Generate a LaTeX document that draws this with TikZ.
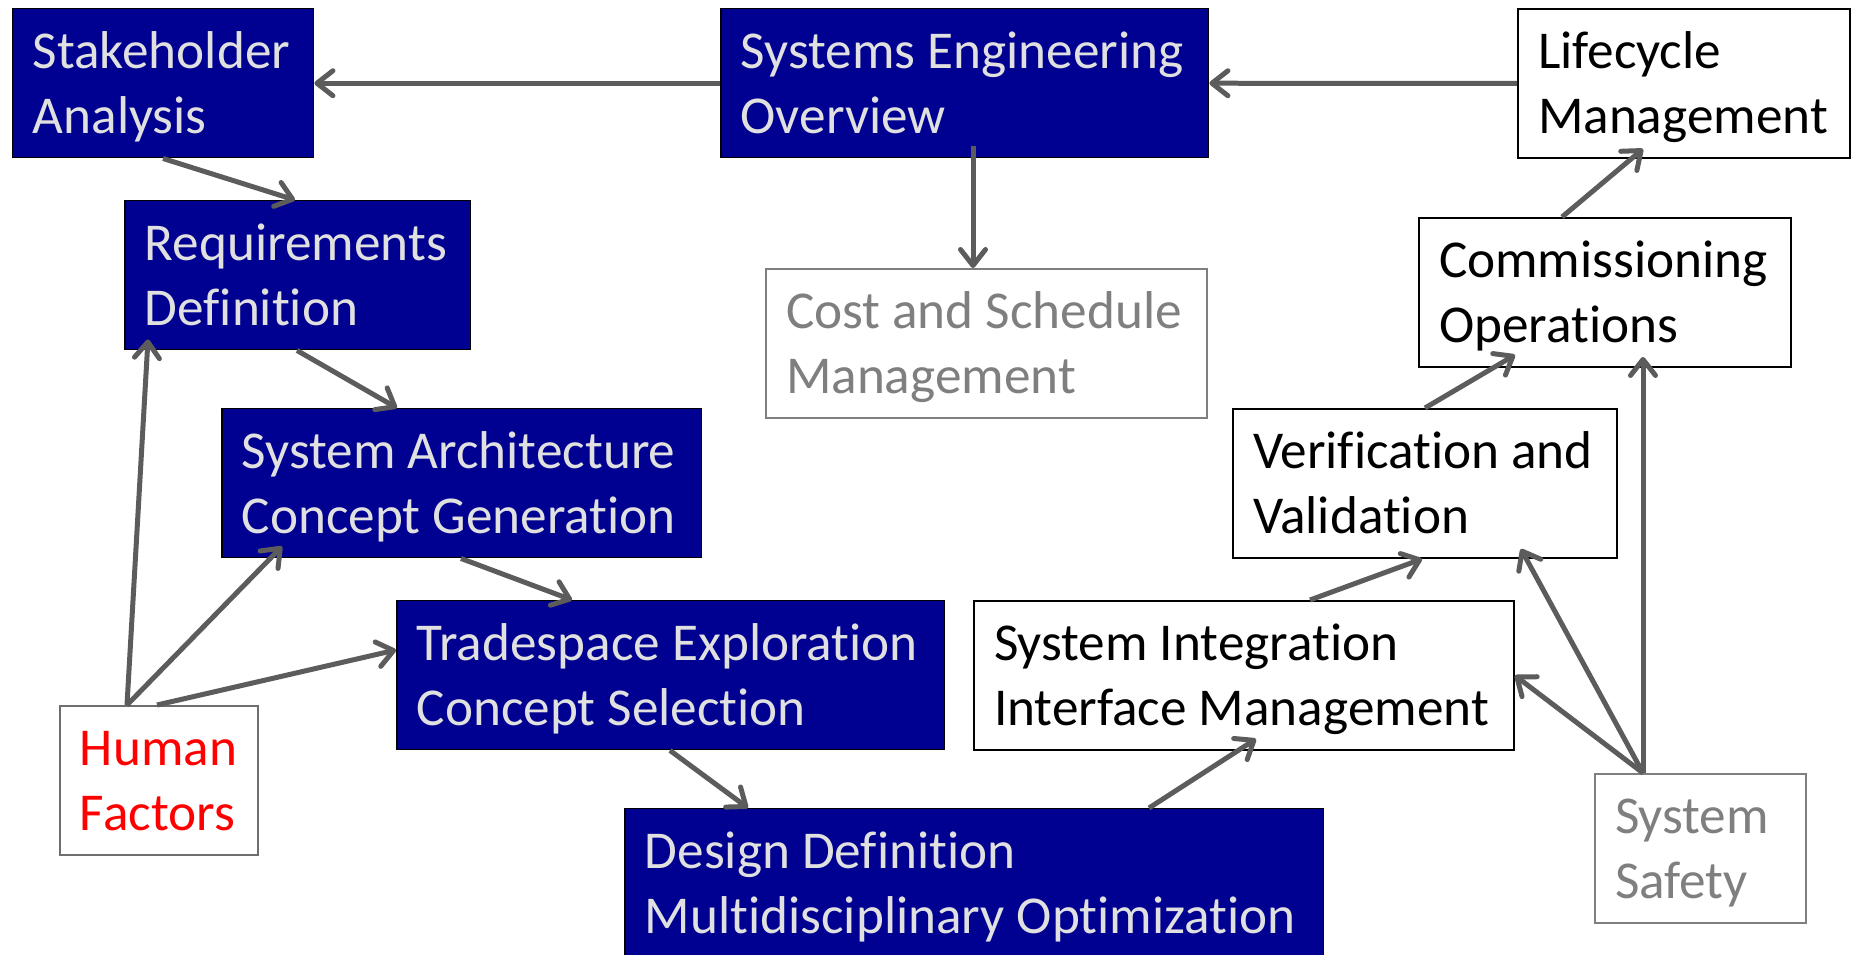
\documentclass[tikz,border=0pt]{standalone}
\usepackage{fontspec}
\setmainfont{Carlito}[Ligatures=NoCommon,Contextuals=NoAlternate]
\usetikzlibrary{arrows.meta,calc}
\definecolor{sedark}{HTML}{000091}
\definecolor{selight}{HTML}{E0E0E0}
\definecolor{segray}{HTML}{7F7F7F}
\definecolor{sehf}{HTML}{6E6E6E}
\definecolor{searrow}{HTML}{5C5C5C}
\tikzset{
  box/.style 2 args={anchor=north west,draw,line width=0.04cm,minimum width=#1,minimum height=2.98cm,
    text width=#2,inner xsep=0.4cm,inner ysep=0pt,align=flush left,text height=0.7cm,text depth=1.28cm,
    font=\fontsize{30.3pt}{36.6pt}\selectfont},
  darkbox/.style={fill=sedark,text=selight,draw=black,line width=0.03cm},
  whitebox/.style={fill=white,text=black,draw=black},
  greybox/.style={fill=white,text=segray,draw=segray},
  hfbox/.style={fill=white,text=red,draw=sehf},
  arr/.style={draw=searrow,line width=0.1cm,-{Straight Barb[length=0.32cm,width=0.5cm,round]}}
}
\begin{document}
\begin{tikzpicture}[x=0.02cm,y=-0.02cm]
\useasboundingbox (0,0) rectangle (1857,955);
%boxes
\node[box={6.02cm}{5.22cm},darkbox] (stake) at (12,8) {Stakeholder\\Analysis};
\node[box={9.76cm}{8.96cm},darkbox] (seo) at (720,8) {Systems~Engineering\\Overview};
\node[box={6.64cm}{5.84cm},whitebox] (life) at (1517,8) {Lifecycle\\Management};
\node[box={6.92cm}{6.12cm},darkbox] (req) at (124,200) {Requirements\\Definition};
\node[box={8.82cm}{8.02cm},greybox] (cost) at (765,268) {Cost~and~Schedule\\Management};
\node[box={7.44cm}{6.64cm},whitebox] (comm) at (1418,217) {Commissioning\\Operations};
\node[box={9.60cm}{8.80cm},darkbox] (arch) at (221,408) {System~Architecture\\Concept~Generation};
\node[box={7.68cm}{6.88cm},whitebox] (vv) at (1232,408) {Verification~and\\Validation};
\node[box={10.96cm}{10.16cm},darkbox] (trade) at (396,600) {Tradespace~Exploration\\Concept~Selection};
\node[box={10.80cm}{10.00cm},whitebox] (integ) at (973,600) {System~Integration\\Interface~Management};
\node[box={3.96cm}{3.16cm},hfbox] (human) at (59,705) {Human\\Factors};
\node[box={13.98cm}{13.18cm},darkbox] (design) at (624,808) {Design~Definition\\Multidisciplinary~Optimization};
\node[box={4.22cm}{3.42cm},greybox] (safety) at (1594,773) {System\\Safety};
%top row
\draw[arr] (seo.west) -- (stake.east);
\draw[arr] (life.west) -- (seo.east);
\draw[arr] ($(seo.south west)+(253,-12)$) coordinate (c1) -- (c1 |- cost.north);
%left chain
\draw[arr] ($(stake.south west)+(151,0)$) -- ($(req.north west)+(171,0)$);
\draw[arr] ($(req.south west)+(173,0)$) -- ($(arch.north west)+(176,0)$);
\draw[arr] ($(arch.south west)+(240,0)$) -- ($(trade.north west)+(176,0)$);
\draw[arr] ($(trade.south west)+(274,0)$) -- ($(design.north west)+(124,0)$);
%right chain
\draw[arr] ($(design.north west)+(525,0)$) -- ($(integ.south west)+(283,-12)$);
\draw[arr] ($(integ.north west)+(337,0)$) -- ($(vv.south west)+(190,0)$);
\draw[arr] ($(vv.north west)+(193,0)$) -- ($(comm.south west)+(97,-13)$);
\draw[arr] ($(comm.north west)+(144,0)$) -- ($(life.south west)+(126,-10)$);
%human factors
\draw[arr] ($(human.north west)+(68,0)$) coordinate (h1) -- ($(req.south west)+(24,-11)$);
\draw[arr] (h1) -- ($(arch.south west)+(61,-12)$);
\draw[arr] ($(human.north west)+(98,0)$) -- ($(trade.north west)+(0,50)$);
%system safety
\draw[arr] ($(safety.north west)+(49,0)$) coordinate (s1) -- ($(comm.south west)+(225,-11)$);
\draw[arr] (s1) -- ($(vv.south east)+(-97,-10)$);
\draw[arr] (s1) -- (integ.east);
\end{tikzpicture}
\end{document}
